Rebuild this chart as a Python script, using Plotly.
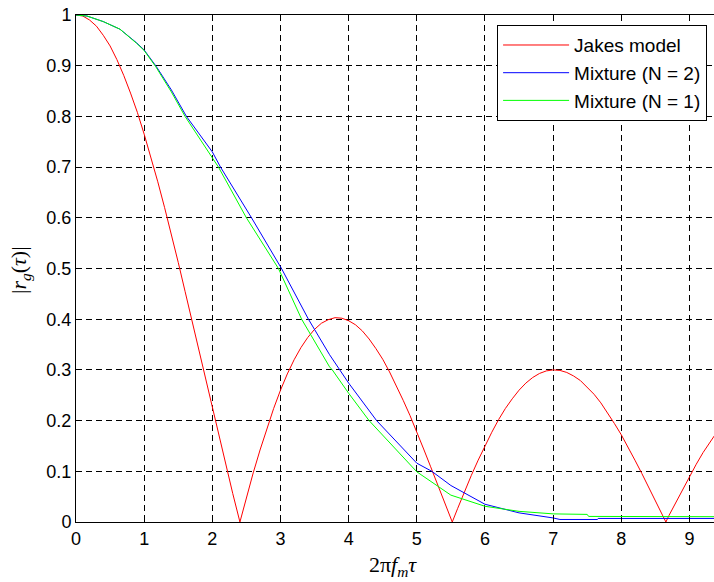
import plotly.graph_objects as go

# Jakes model |J0(x)|
jakes_x = [0.0, 0.1, 0.2, 0.3, 0.4, 0.5, 0.6, 0.7, 0.8, 0.9, 1.0, 1.1, 1.2, 1.3, 1.4, 1.5,
           1.6, 1.7, 1.8, 1.9, 2.0, 2.1, 2.2, 2.3, 2.405, 2.5, 2.6, 2.7, 2.8, 2.9, 3.0, 3.1,
           3.2, 3.3, 3.4, 3.5, 3.6, 3.7, 3.8, 3.9, 4.0, 4.1, 4.2, 4.3, 4.4, 4.5, 4.6, 4.7,
           4.8, 4.9, 5.0, 5.1, 5.2, 5.3, 5.4, 5.52, 5.6, 5.7, 5.8, 5.9, 6.0, 6.1, 6.2, 6.3,
           6.4, 6.5, 6.6, 6.7, 6.8, 6.9, 7.0, 7.1, 7.2, 7.3, 7.4, 7.5, 7.6, 7.7, 7.8, 7.9,
           8.0, 8.1, 8.2, 8.3, 8.4, 8.5, 8.654, 8.7, 8.8, 8.9, 9.0, 9.1, 9.2, 9.3, 9.4]
jakes_y = [1.000, 0.998, 0.990, 0.978, 0.960, 0.939, 0.912, 0.881, 0.846, 0.808, 0.765,
           0.720, 0.671, 0.620, 0.567, 0.512, 0.455, 0.398, 0.340, 0.282, 0.224, 0.167,
           0.110, 0.056, 0.000, 0.048, 0.097, 0.142, 0.185, 0.224, 0.260, 0.292, 0.320,
           0.344, 0.364, 0.380, 0.392, 0.399, 0.403, 0.402, 0.397, 0.389, 0.377, 0.361,
           0.342, 0.321, 0.296, 0.269, 0.240, 0.210, 0.178, 0.144, 0.110, 0.076, 0.041,
           0.000, 0.027, 0.060, 0.092, 0.122, 0.151, 0.177, 0.202, 0.224, 0.243, 0.260,
           0.274, 0.285, 0.293, 0.298, 0.300, 0.299, 0.295, 0.288, 0.279, 0.266, 0.252,
           0.235, 0.215, 0.194, 0.172, 0.148, 0.122, 0.096, 0.069, 0.042, 0.000, 0.013,
           0.039, 0.065, 0.090, 0.114, 0.137, 0.158, 0.177]

# Mixture (N = 2), blue
mix2_x = [0.0, 0.16, 0.4, 0.645, 0.89, 1.0, 1.18, 1.4, 1.62, 2.0, 2.12, 2.575, 3.015, 3.41,
          3.72, 3.87, 4.0, 4.41, 5.0, 5.22, 5.5, 6.0, 6.5, 7.0, 7.1, 7.65, 7.66, 9.4]
mix2_y = [1.0, 0.998, 0.987, 0.972, 0.945, 0.931, 0.898, 0.852, 0.800, 0.730, 0.700,
          0.600, 0.500, 0.400, 0.330, 0.300, 0.274, 0.200, 0.116, 0.100, 0.072, 0.035,
          0.018, 0.008, 0.005, 0.005, 0.007, 0.007]

# Mixture (N = 1), green
mix1_x = [0.0, 0.16, 0.4, 0.645, 0.89, 1.0, 1.17, 1.4, 1.60, 2.0, 2.09, 2.50, 2.97, 3.31,
          3.72, 3.76, 4.0, 4.30, 5.0, 5.5, 6.0, 6.5, 7.0, 7.5, 7.52, 9.4]
mix1_y = [1.0, 0.998, 0.987, 0.972, 0.944, 0.930, 0.898, 0.848, 0.800, 0.720, 0.700,
          0.600, 0.500, 0.400, 0.306, 0.300, 0.254, 0.200, 0.099, 0.053, 0.031, 0.021,
          0.016, 0.015, 0.011, 0.0105]

x_ticks = [0, 1, 2, 3, 4, 5, 6, 7, 8, 9]
y_ticks = [0, 0.1, 0.2, 0.3, 0.4, 0.5, 0.6, 0.7, 0.8, 0.9, 1]
y_tick_text = ["0", "0.1", "0.2", "0.3", "0.4", "0.5", "0.6", "0.7", "0.8", "0.9", "1"]

fig = go.Figure()
fig.add_trace(go.Scatter(x=jakes_x, y=jakes_y, mode="lines", name="Jakes model",
                         line=dict(color="#ff0000", width=1), legendgroup="a"))
fig.add_trace(go.Scatter(x=mix2_x, y=mix2_y, mode="lines", name="Mixture (N = 2)",
                         line=dict(color="#0000ff", width=1), legendgroup="b"))
fig.add_trace(go.Scatter(x=mix1_x, y=mix1_y, mode="lines", name="Mixture (N = 1)",
                         line=dict(color="#00ff00", width=1), legendgroup="c"))

tick_font = dict(family="Liberation Sans, Arial, sans-serif", size=18, color="black")
grid_dash = "6px,4px"
label_font = dict(family="Liberation Serif, serif", size=22, color="black")

fig.update_layout(
    width=714, height=582,
    margin=dict(l=76, r=0, t=15, b=60, autoexpand=False),
    paper_bgcolor="white", plot_bgcolor="white",
    showlegend=True,
    legend=dict(x=0.66, y=0.98, xanchor="left", yanchor="top",
                bgcolor="white", bordercolor="black", borderwidth=1,
                font=dict(family="Liberation Sans, Arial, sans-serif", size=19, color="black"),
                tracegroupgap=0, itemwidth=66),
    xaxis=dict(range=[0, 9.36], tickvals=x_ticks, ticks="inside", ticklen=5,
               tickcolor="black", showline=True, linecolor="black", linewidth=1,
               mirror="ticks", showgrid=True, gridcolor="black", gridwidth=1,
               griddash=grid_dash, zeroline=False, tickfont=tick_font, automargin=False),
    yaxis=dict(range=[0, 1], tickvals=y_ticks, ticktext=y_tick_text, ticks="inside",
               ticklen=5, tickcolor="black", showline=True, linecolor="black",
               linewidth=1, showgrid=True, gridcolor="black", gridwidth=1,
               griddash=grid_dash, zeroline=False, tickfont=tick_font, automargin=False),
    annotations=[
        dict(text="2π<i>f</i><sub><i>m</i></sub><i>τ</i>", xref="paper", yref="paper",
             x=(393 - 76) / 638, y=-(566 - 522) / 507, xanchor="center", yanchor="middle",
             showarrow=False, font=label_font),
        dict(text="|<i>r</i><sub><i>g</i></sub>(<i>τ</i>)|", xref="paper", yref="paper",
             x=-(76 - 20) / 638, y=(522 - 270) / 507, xanchor="center", yanchor="middle",
             textangle=-90, showarrow=False, font=label_font),
    ],
)

fig.write_html(
    "out.html",
    config={"displayModeBar": False},
    post_script="document.body.style.margin='0';document.body.style.overflow='hidden';",
)
